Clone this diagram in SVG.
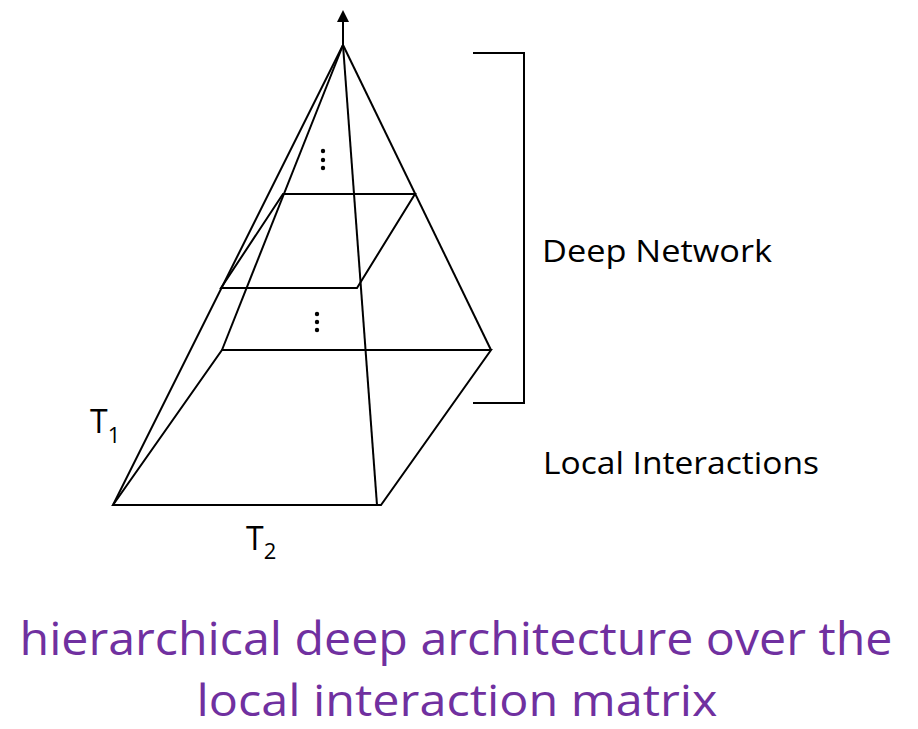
<svg xmlns="http://www.w3.org/2000/svg" width="918" height="729" viewBox="0 0 918 729">
<defs>
<style>
.ln{stroke:#000;stroke-width:2;fill:none;stroke-linejoin:miter}
.lbl{font-family:"Open Sans","Liberation Sans",sans-serif;fill:#000}
.cap{font-family:"Open Sans","Liberation Sans",sans-serif;fill:#7030A0;font-size:46px}
</style>
</defs>
<rect width="918" height="729" fill="#fff"/>
<g id="connectors">
<line class="ln" x1="343" y1="45" x2="343" y2="22"/>
<path d="M337,22 L343,10 L349,22 Z" fill="#000"/>
<line class="ln" x1="343" y1="45" x2="113" y2="505"/>
<line class="ln" x1="343" y1="45" x2="222" y2="350"/>
<line class="ln" x1="343" y1="45" x2="491" y2="350"/>
<line class="ln" x1="343" y1="45" x2="377" y2="505"/>
</g>
<g id="base">
<path class="ln" d="M113,505 L381,505 L491,350 L222,350 Z"/>
</g>
<g id="middle-layer">
<path class="ln" d="M221,288 L357,288 L415,194 L283,194 Z"/>
</g>
<g id="dots-upper">
<circle cx="323" cy="151" r="2.2"/><circle cx="323" cy="160" r="2.2"/><circle cx="323" cy="168" r="2.2"/>
</g>
<g id="dots-lower">
<circle cx="317" cy="314" r="2.2"/><circle cx="317" cy="322" r="2.2"/><circle cx="317" cy="330" r="2.2"/>
</g>
<g id="bracket">
<path class="ln" d="M473,53 L524,53 L524,403 L473,403"/>
</g>
<g id="label-deep">
<text class="lbl" x="542" y="262" font-size="31" textLength="230" lengthAdjust="spacingAndGlyphs">Deep Network</text>
</g>
<g id="label-local">
<text class="lbl" x="543" y="474" font-size="31" textLength="276" lengthAdjust="spacingAndGlyphs">Local Interactions</text>
</g>
<g id="label-t1">
<text class="lbl" x="90" y="433" font-size="32">T<tspan font-size="22" dy="10">1</tspan></text>
</g>
<g id="label-t2">
<text class="lbl" x="246" y="550" font-size="32">T<tspan font-size="22" dy="9">2</tspan></text>
</g>
<g id="caption">
<text class="cap" x="456" y="655" text-anchor="middle" textLength="873" lengthAdjust="spacingAndGlyphs">hierarchical deep architecture over the</text>
<text class="cap" x="457" y="716" font-size="44" text-anchor="middle" textLength="521" lengthAdjust="spacingAndGlyphs" style="font-size:44px">local interaction matrix</text>
</g>
</svg>
